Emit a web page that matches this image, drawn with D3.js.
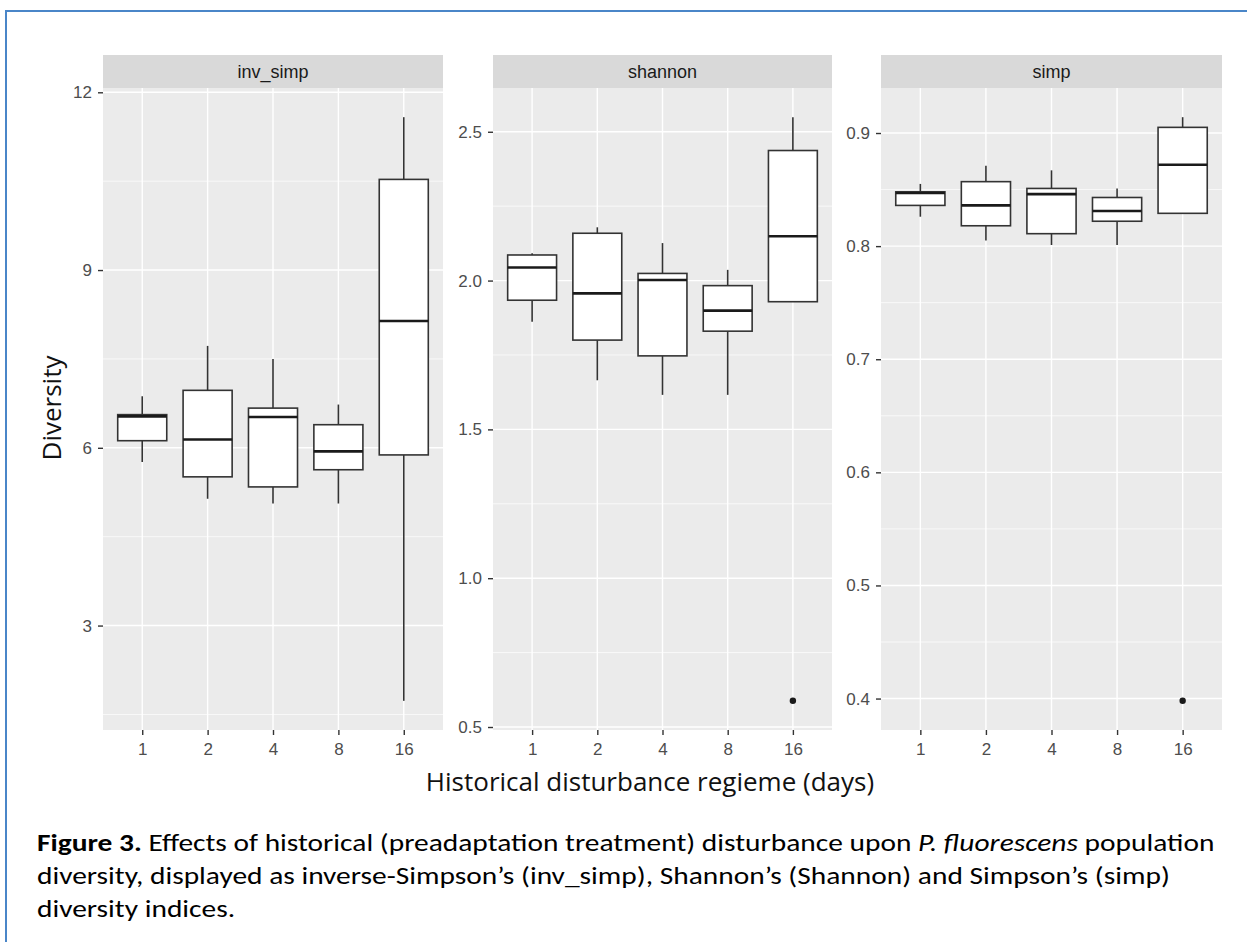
<!DOCTYPE html>
<html>
<head>
<meta charset="utf-8">
<script src="https://cdn.jsdelivr.net/npm/d3@7"></script>
<style>
  body { margin: 0; background: #fff; }
  svg { display: block; }
</style>
</head>
<body>
<div id="chart"></div>
<script>
// categorias del eje x (dias)
const categories = ["1", "2", "4", "8", "16"];

// inv_simp: resumen de cinco numeros por categoria
const invSimpLow = [5.76, 5.14, 5.06, 5.06, 1.73];
const invSimpQ1 = [6.12, 5.51, 5.34, 5.63, 5.88];
const invSimpMed = [6.53, 6.14, 6.52, 5.94, 8.14];
const invSimpQ3 = [6.56, 6.97, 6.67, 6.39, 10.53];
const invSimpHigh = [6.87, 7.72, 7.5, 6.73, 11.58];
const invSimpOutliers = [];
const invSimpTicks = [3, 6, 9, 12];

// shannon
const shannonLow = [1.862, 1.665, 1.616, 1.616, 1.929];
const shannonQ1 = [1.934, 1.8, 1.747, 1.83, 1.929];
const shannonMed = [2.044, 1.957, 2.002, 1.899, 2.149];
const shannonQ3 = [2.086, 2.159, 2.024, 1.983, 2.437];
const shannonHigh = [2.092, 2.179, 2.126, 2.036, 2.549];
const shannonOutliers = [{ cat: "16", value: 0.588 }];
const shannonTicks = [0.5, 1.0, 1.5, 2.0, 2.5];

// simp
const simpLow = [0.826, 0.805, 0.801, 0.801, 0.829];
const simpQ1 = [0.836, 0.818, 0.811, 0.822, 0.829];
const simpMed = [0.847, 0.836, 0.846, 0.831, 0.872];
const simpQ3 = [0.848, 0.857, 0.851, 0.843, 0.905];
const simpHigh = [0.855, 0.871, 0.867, 0.851, 0.914];
const simpOutliers = [{ cat: "16", value: 0.398 }];
const simpTicks = [0.4, 0.5, 0.6, 0.7, 0.8, 0.9];

const panelNames = ["inv_simp", "shannon", "simp"];

// armar los datos de cada panel
const makeBoxes = (low, q1, med, q3, high) =>
  categories.map((c, i) => ({ cat: c, low: low[i], q1: q1[i], med: med[i], q3: q3[i], high: high[i] }));

const panels = [
  { name: panelNames[0], boxes: makeBoxes(invSimpLow, invSimpQ1, invSimpMed, invSimpQ3, invSimpHigh),
    outliers: invSimpOutliers, ticks: invSimpTicks, fmt: d3.format("d"), x0: 103, x1: 443 },
  { name: panelNames[1], boxes: makeBoxes(shannonLow, shannonQ1, shannonMed, shannonQ3, shannonHigh),
    outliers: shannonOutliers, ticks: shannonTicks, fmt: d3.format(".1f"), x0: 493, x1: 832 },
  { name: panelNames[2], boxes: makeBoxes(simpLow, simpQ1, simpMed, simpQ3, simpHigh),
    outliers: simpOutliers, ticks: simpTicks, fmt: d3.format(".1f"), x0: 881, x1: 1222 },
];

const width = 1247;
const height = 942;
const stripTop = 55;
const panelTop = 88;
const panelBottom = 730;
const tickFont = "Liberation Sans, Arial, sans-serif";

const svg = d3.select("#chart")
  .append("svg")
  .attr("width", width)
  .attr("height", height);

// borde azul del documento
svg.append("path")
  .attr("d", `M6,${height} L6,11 L${width},11`)
  .attr("fill", "none")
  .attr("stroke", "#4a86c8")
  .attr("stroke-width", 2);

panels.forEach((p) => {
  // escala y libre como en ggplot (expansion del 5%)
  const vals = p.boxes.flatMap((b) => [b.low, b.high]).concat(p.outliers.map((o) => o.value));
  const [mn, mx] = d3.extent(vals);
  const pad = (mx - mn) * 0.05;
  const y = d3.scaleLinear().domain([mn - pad, mx + pad]).range([panelBottom, panelTop]);
  const x = d3.scalePoint().domain(categories).range([p.x0, p.x1]).padding(0.6);
  const boxW = x.step() * 0.75;

  const g = svg.append("g");

  // strip
  g.append("rect")
    .attr("x", p.x0).attr("y", stripTop)
    .attr("width", p.x1 - p.x0).attr("height", panelTop - stripTop)
    .attr("fill", "#d9d9d9");
  g.append("text")
    .attr("x", (p.x0 + p.x1) / 2).attr("y", (stripTop + panelTop) / 2 + 6)
    .attr("text-anchor", "middle")
    .attr("font-family", tickFont)
    .attr("font-size", 18)
    .attr("fill", "#1a1a1a")
    .text(p.name);

  // fondo del panel
  g.append("rect")
    .attr("x", p.x0).attr("y", panelTop)
    .attr("width", p.x1 - p.x0).attr("height", panelBottom - panelTop)
    .attr("fill", "#ebebeb");

  // grilla menor
  const step = p.ticks[1] - p.ticks[0];
  const minor = [p.ticks[0] - step / 2].concat(p.ticks.map((t) => t + step / 2))
    .filter((v) => v > y.domain()[0] && v < y.domain()[1]);
  g.selectAll(".minor").data(minor).join("line")
    .attr("x1", p.x0).attr("x2", p.x1)
    .attr("y1", (d) => y(d)).attr("y2", (d) => y(d))
    .attr("stroke", "#fff").attr("stroke-width", 0.7);

  // grilla mayor
  g.selectAll(".major").data(p.ticks).join("line")
    .attr("x1", p.x0).attr("x2", p.x1)
    .attr("y1", (d) => y(d)).attr("y2", (d) => y(d))
    .attr("stroke", "#fff").attr("stroke-width", 1.4);
  g.selectAll(".vgrid").data(categories).join("line")
    .attr("x1", (d) => x(d)).attr("x2", (d) => x(d))
    .attr("y1", panelTop).attr("y2", panelBottom)
    .attr("stroke", "#fff").attr("stroke-width", 1.4);

  // ejes
  const yAxis = g.append("g")
    .attr("transform", `translate(${p.x0},0)`)
    .call(d3.axisLeft(y).tickValues(p.ticks).tickFormat(p.fmt).tickSize(5).tickPadding(6));
  const xAxis = g.append("g")
    .attr("transform", `translate(0,${panelBottom})`)
    .call(d3.axisBottom(x).tickSize(5).tickPadding(8));
  [yAxis, xAxis].forEach((a) => {
    a.attr("font-size", null).attr("font-family", null);
    a.select(".domain").remove();
    a.selectAll(".tick line").attr("stroke", "#333").attr("stroke-width", 1.4);
    a.selectAll(".tick text")
      .attr("font-family", tickFont)
      .attr("font-size", 17)
      .attr("fill", "#4d4d4d");
  });

  // cajas
  const box = g.selectAll(".box").data(p.boxes).join("g");
  box.append("line")
    .attr("x1", (d) => x(d.cat)).attr("x2", (d) => x(d.cat))
    .attr("y1", (d) => y(d.q3)).attr("y2", (d) => y(d.high))
    .attr("stroke", "#333").attr("stroke-width", 1.6);
  box.append("line")
    .attr("x1", (d) => x(d.cat)).attr("x2", (d) => x(d.cat))
    .attr("y1", (d) => y(d.q1)).attr("y2", (d) => y(d.low))
    .attr("stroke", "#333").attr("stroke-width", 1.6);
  box.append("rect")
    .attr("x", (d) => x(d.cat) - boxW / 2)
    .attr("y", (d) => y(d.q3))
    .attr("width", boxW)
    .attr("height", (d) => y(d.q1) - y(d.q3))
    .attr("fill", "#fff")
    .attr("stroke", "#333")
    .attr("stroke-width", 1.6);
  box.append("line")
    .attr("x1", (d) => x(d.cat) - boxW / 2).attr("x2", (d) => x(d.cat) + boxW / 2)
    .attr("y1", (d) => y(d.med)).attr("y2", (d) => y(d.med))
    .attr("stroke", "#1a1a1a").attr("stroke-width", 2.6);

  // valores atipicos
  g.selectAll(".out").data(p.outliers).join("circle")
    .attr("cx", (d) => x(d.cat)).attr("cy", (d) => y(d.value))
    .attr("r", 3.2).attr("fill", "#1a1a1a");
});

// titulos de ejes
svg.append("text")
  .attr("transform", "translate(61,408) rotate(-90)")
  .attr("text-anchor", "middle")
  .attr("font-family", "Open Sans, sans-serif")
  .attr("font-size", 26)
  .attr("fill", "#111")
  .text("Diversity");

svg.append("text")
  .attr("x", 650).attr("y", 791)
  .attr("text-anchor", "middle")
  .attr("font-family", "Open Sans, sans-serif")
  .attr("font-size", 26)
  .attr("fill", "#111")
  .text("Historical disturbance regieme (days)");

// leyenda de la figura (estirada en horizontal como la imagen original)
const caption = svg.append("g")
  .attr("font-family", "Carlito, Calibri, Lato, sans-serif")
  .attr("font-size", 24)
  .attr("fill", "#000");

const line1 = caption.append("text").attr("x", 0).attr("y", 851);
line1.append("tspan").attr("font-weight", "bold").text("Figure 3.");
line1.append("tspan").text(" Effects of historical (preadaptation treatment) disturbance upon ");
line1.append("tspan").attr("font-style", "italic").text("P. fluorescens");
line1.append("tspan").text(" population");

caption.append("text").attr("x", 0).attr("y", 884)
  .text("diversity, displayed as inverse-Simpson\u2019s (inv_simp), Shannon\u2019s (Shannon) and Simpson\u2019s (simp)");
caption.append("text").attr("x", 0).attr("y", 917)
  .text("diversity indices.");

const captionTarget = 1215 - 37;
const sx = captionTarget / line1.node().getComputedTextLength();
caption.attr("transform", `translate(37,0) scale(${sx},1)`);
</script>
</body>
</html>
